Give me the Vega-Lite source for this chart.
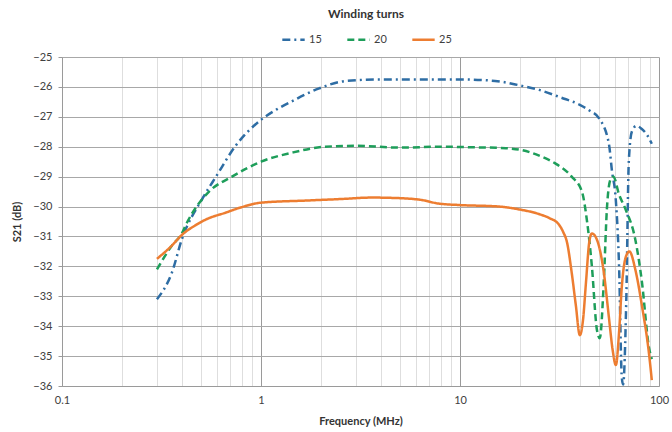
{
  "$schema": "https://vega.github.io/schema/vega-lite/v6.json",
  "width": 597,
  "height": 329,
  "autosize": {"type": "none"},
  "padding": {"left": 62, "top": 57, "right": 13, "bottom": 46},
  "background": "white",
  "config": {
    "view": {"stroke": null},
    "font": "Lato",
    "axis": {"labelFont": "Lato", "titleFont": "Lato", "labelFontSize": 11, "labelColor": "#404040", "titleColor": "#333333", "titleFontSize": 11, "titleFontWeight": "bold"}
  },
  "data": {
    "values": [
      {"s": "15", "f": 0.3, "v": -33.1},
      {"s": "15", "f": 0.357, "v": -32.2},
      {"s": "15", "f": 0.4, "v": -31.1},
      {"s": "15", "f": 0.506, "v": -29.75},
      {"s": "15", "f": 0.594, "v": -29.0},
      {"s": "15", "f": 0.749, "v": -27.95},
      {"s": "15", "f": 1.0, "v": -27.1},
      {"s": "15", "f": 1.2, "v": -26.75},
      {"s": "15", "f": 1.43, "v": -26.48},
      {"s": "15", "f": 1.96, "v": -26.05},
      {"s": "15", "f": 2.67, "v": -25.8},
      {"s": "15", "f": 4, "v": -25.75},
      {"s": "15", "f": 6, "v": -25.75},
      {"s": "15", "f": 10, "v": -25.75},
      {"s": "15", "f": 15, "v": -25.8},
      {"s": "15", "f": 20, "v": -25.95},
      {"s": "15", "f": 25, "v": -26.1},
      {"s": "15", "f": 32, "v": -26.35},
      {"s": "15", "f": 40, "v": -26.6},
      {"s": "15", "f": 45, "v": -26.8},
      {"s": "15", "f": 50, "v": -27.05},
      {"s": "15", "f": 56, "v": -27.9},
      {"s": "15", "f": 58, "v": -28.8},
      {"s": "15", "f": 60.7, "v": -29.8},
      {"s": "15", "f": 63, "v": -32.0},
      {"s": "15", "f": 65, "v": -35.7},
      {"s": "15", "f": 66, "v": -35.95},
      {"s": "15", "f": 68.5, "v": -33.1},
      {"s": "15", "f": 70.5, "v": -28.5},
      {"s": "15", "f": 73, "v": -27.5},
      {"s": "15", "f": 77, "v": -27.3},
      {"s": "15", "f": 81.7, "v": -27.4},
      {"s": "15", "f": 87, "v": -27.6},
      {"s": "15", "f": 92, "v": -27.9},
      {"s": "20", "f": 0.3, "v": -32.1},
      {"s": "20", "f": 0.357, "v": -31.3},
      {"s": "20", "f": 0.4, "v": -30.9},
      {"s": "20", "f": 0.42, "v": -30.6},
      {"s": "20", "f": 0.548, "v": -29.5},
      {"s": "20", "f": 0.715, "v": -29.0},
      {"s": "20", "f": 1.0, "v": -28.5},
      {"s": "20", "f": 1.43, "v": -28.2},
      {"s": "20", "f": 2.1, "v": -28.0},
      {"s": "20", "f": 3, "v": -27.97},
      {"s": "20", "f": 5, "v": -28.03},
      {"s": "20", "f": 8, "v": -28.0},
      {"s": "20", "f": 12, "v": -28.02},
      {"s": "20", "f": 17, "v": -28.05},
      {"s": "20", "f": 20, "v": -28.1},
      {"s": "20", "f": 25, "v": -28.3},
      {"s": "20", "f": 30, "v": -28.55},
      {"s": "20", "f": 36.4, "v": -29.0},
      {"s": "20", "f": 41, "v": -29.5},
      {"s": "20", "f": 43.5, "v": -30.5},
      {"s": "20", "f": 46, "v": -32.0},
      {"s": "20", "f": 48.7, "v": -34.1},
      {"s": "20", "f": 50.4, "v": -34.4},
      {"s": "20", "f": 52.8, "v": -32.5},
      {"s": "20", "f": 54.7, "v": -30.1},
      {"s": "20", "f": 57, "v": -29.1},
      {"s": "20", "f": 59, "v": -29.0},
      {"s": "20", "f": 63, "v": -29.6},
      {"s": "20", "f": 68, "v": -30.1},
      {"s": "20", "f": 76, "v": -31.1},
      {"s": "20", "f": 82, "v": -32.5},
      {"s": "20", "f": 89, "v": -34.7},
      {"s": "20", "f": 92, "v": -35.1},
      {"s": "25", "f": 0.3, "v": -31.75},
      {"s": "25", "f": 0.357, "v": -31.3},
      {"s": "25", "f": 0.4, "v": -30.95},
      {"s": "25", "f": 0.47, "v": -30.62},
      {"s": "25", "f": 0.53, "v": -30.43},
      {"s": "25", "f": 0.667, "v": -30.2},
      {"s": "25", "f": 0.8, "v": -30.02},
      {"s": "25", "f": 1.0, "v": -29.87},
      {"s": "25", "f": 1.68, "v": -29.8},
      {"s": "25", "f": 2.5, "v": -29.75},
      {"s": "25", "f": 3.6, "v": -29.7},
      {"s": "25", "f": 5, "v": -29.72},
      {"s": "25", "f": 6.4, "v": -29.78},
      {"s": "25", "f": 7.8, "v": -29.9},
      {"s": "25", "f": 10, "v": -29.95},
      {"s": "25", "f": 15.7, "v": -30.0},
      {"s": "25", "f": 20, "v": -30.1},
      {"s": "25", "f": 24.9, "v": -30.25},
      {"s": "25", "f": 28, "v": -30.38},
      {"s": "25", "f": 31.4, "v": -30.6},
      {"s": "25", "f": 33, "v": -30.85},
      {"s": "25", "f": 34.5, "v": -31.2},
      {"s": "25", "f": 36.4, "v": -32.2},
      {"s": "25", "f": 38.2, "v": -33.3},
      {"s": "25", "f": 40, "v": -34.3},
      {"s": "25", "f": 41.5, "v": -33.8},
      {"s": "25", "f": 43, "v": -32.5},
      {"s": "25", "f": 44.6, "v": -31.2},
      {"s": "25", "f": 46, "v": -30.9},
      {"s": "25", "f": 48.7, "v": -31.1},
      {"s": "25", "f": 52.8, "v": -32.2},
      {"s": "25", "f": 56, "v": -33.7},
      {"s": "25", "f": 58.5, "v": -34.8},
      {"s": "25", "f": 60.7, "v": -35.3},
      {"s": "25", "f": 63, "v": -34.2},
      {"s": "25", "f": 65, "v": -32.7},
      {"s": "25", "f": 68, "v": -31.7},
      {"s": "25", "f": 71, "v": -31.5},
      {"s": "25", "f": 76, "v": -32.1},
      {"s": "25", "f": 82, "v": -33.3},
      {"s": "25", "f": 89, "v": -34.9},
      {"s": "25", "f": 92, "v": -35.8}
    ]
  },
  "mark": {"type": "line", "strokeWidth": 2.5, "interpolate": "monotone", "clip": true},
  "encoding": {
    "x": {
      "field": "f", "type": "quantitative",
      "scale": {"type": "log", "domain": [0.1, 100]},
      "axis": {
        "title": "Frequency (MHz)",
        "values": [0.1,0.2,0.3,0.4,0.5,0.6,0.7,0.8,0.9,1,2,3,4,5,6,7,8,9,10,20,30,40,50,60,70,80,90,100],
        "format": "~g",
        "labelExpr": "indexof([0.1,1,10,100], datum.value) >= 0 ? datum.label : ''",
        "grid": true,
        "gridColor": {"condition": {"test": "indexof([0.1,1,10,100], datum.value) >= 0", "value": "#9a9a9a"}, "value": "#dedede"},
        "gridWidth": 1,
        "ticks": false,
        "domainColor": "#9a9a9a",
        "labelPadding": 8,
        "titlePadding": 10,
        "labelFlush": false
      }
    },
    "y": {
      "field": "v", "type": "quantitative",
      "scale": {"domain": [-36, -25], "nice": false, "zero": false},
      "axis": {
        "title": "S21 (dB)",
        "values": [-36,-35,-34,-33,-32,-31,-30,-29,-28,-27,-26,-25],
        "grid": true,
        "gridColor": "#a8a8a8",
        "tickColor": "#9a9a9a",
        "tickSize": 4,
        "domainColor": "#9a9a9a",
        "labelPadding": 6,
        "titlePadding": 10
      }
    },
    "color": {
      "field": "s", "type": "nominal",
      "scale": {"domain": ["15", "20", "25"], "range": ["#2E6DA4", "#1E9E5A", "#ED7D31"]},
      "legend": {
        "title": "Winding turns",
        "orient": "none",
        "legendX": 219,
        "legendY": -48,
        "direction": "horizontal",
        "titleAnchor": "middle",
        "titleFont": "Lato",
        "titleFontSize": 12,
        "titleFontWeight": "bold",
        "titleColor": "#333333",
        "titlePadding": 6,
        "labelFont": "Lato",
        "labelFontSize": 11,
        "labelColor": "#404040",
        "symbolType": "stroke",
        "symbolSize": 500,
        "symbolStrokeWidth": 2.5,
        "labelOffset": 3,
        "columnPadding": 20
      }
    },
    "strokeDash": {
      "field": "s", "type": "nominal",
      "scale": {"domain": ["15", "20", "25"], "range": [[8, 4, 2, 4], [7, 4], [1, 0]]},
      "legend": {
        "title": "Winding turns"
      }
    }
  }
}
